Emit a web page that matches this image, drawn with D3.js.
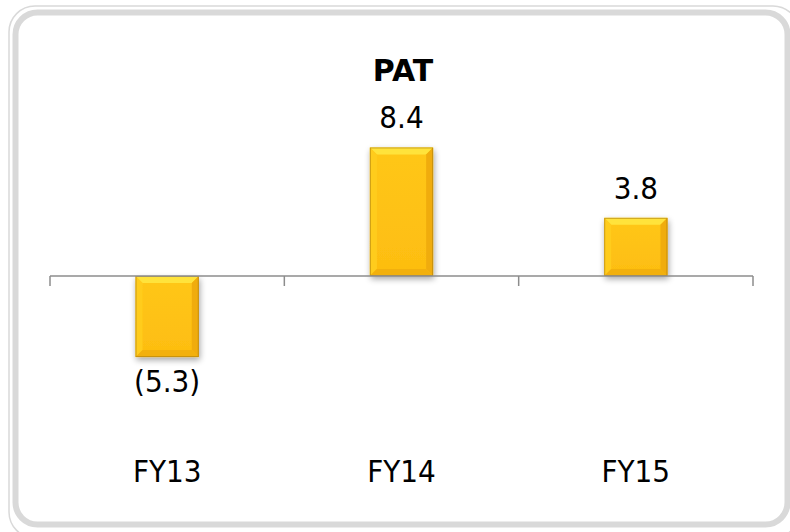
<!DOCTYPE html>
<html>
<head>
<meta charset="utf-8">
<script src="https://cdn.jsdelivr.net/npm/d3@7"></script>
<style>
  body { margin: 0; background: #fff; }
  svg { display: block; }
</style>
</head>
<body>
<script>
"use strict";

var categories = ["FY13", "FY14", "FY15"];
var values = [-5.3, 8.4, 3.8];
var valueLabels = ["(5.3)", "8.4", "3.8"];
var title = "PAT";

function init() {
  var w = 790;
  var h = 532;
  var font = "'DejaVu Sans Condensed', 'DejaVu Sans', sans-serif";

  var svg = d3.select("body")
    .append("svg")
    .attr("width", w)
    .attr("height", h);

  var defs = svg.append("defs");

  var grad = defs.append("linearGradient")
    .attr("id", "gold")
    .attr("x1", 0).attr("y1", 0).attr("x2", 0).attr("y2", 1);
  grad.append("stop").attr("offset", "0%").attr("stop-color", "#ffc719");
  grad.append("stop").attr("offset", "100%").attr("stop-color", "#fdbd10");

  var shadow = defs.append("filter")
    .attr("id", "shadow")
    .attr("x", "-30%").attr("y", "-30%").attr("width", "160%").attr("height", "160%");
  shadow.append("feGaussianBlur").attr("in", "SourceAlpha").attr("stdDeviation", 3);
  shadow.append("feOffset").attr("dx", 1).attr("dy", 3).attr("result", "blur");
  shadow.append("feComponentTransfer").append("feFuncA").attr("type", "linear").attr("slope", 0.35);
  var merge = shadow.append("feMerge");
  merge.append("feMergeNode");
  merge.append("feMergeNode").attr("in", "SourceGraphic");

  // frame: thin outer line + thicker inner line
  svg.append("rect")
    .attr("x", 9).attr("y", 6)
    .attr("width", 790).attr("height", 532)
    .attr("rx", 26)
    .attr("fill", "none")
    .attr("stroke", "#d9d9d9")
    .attr("stroke-width", 1.5);
  svg.append("rect")
    .attr("x", 15.5).attr("y", 12.5)
    .attr("width", 772).attr("height", 512)
    .attr("rx", 22)
    .attr("fill", "#fff")
    .attr("stroke", "#d9d9d9")
    .attr("stroke-width", 6);

  var x = d3.scaleBand()
    .domain(categories)
    .range([50, 753])
    .paddingInner(0.73)
    .paddingOuter(0.365);

  var y = d3.scaleLinear()
    .domain([-6, 9])
    .range([276 + 6 * 15.3, 276 - 9 * 15.3]);

  // title
  svg.append("text")
    .attr("x", 403)
    .attr("y", 81)
    .attr("text-anchor", "middle")
    .attr("font-family", "'DejaVu Sans', sans-serif")
    .attr("font-weight", "bold")
    .attr("font-size", "30px")
    .attr("fill", "#000")
    .text(title);

  // bars
  var bars = svg.selectAll("g.bar")
    .data(values)
    .enter()
    .append("g")
    .attr("class", "bar")
    .attr("filter", "url(#shadow)");

  bars.each(function (d, i) {
    var g = d3.select(this);
    var x0 = x(categories[i]);
    var bw = x.bandwidth();
    var y0 = Math.min(y(d), y(0));
    var bh = Math.abs(y(d) - y(0));
    var b = 7; // bevel size
    g.append("rect")
      .attr("x", x0).attr("y", y0)
      .attr("width", bw).attr("height", bh)
      .attr("fill", "url(#gold)");
    // top bevel (light)
    g.append("polygon")
      .attr("points", [[x0, y0], [x0 + bw, y0], [x0 + bw - b, y0 + b], [x0 + b, y0 + b]].join(" "))
      .attr("fill", "#ffe33a");
    // left bevel
    g.append("polygon")
      .attr("points", [[x0, y0], [x0 + b, y0 + b], [x0 + b, y0 + bh - b], [x0, y0 + bh]].join(" "))
      .attr("fill", "#ffcc1e");
    // right bevel (dark)
    g.append("polygon")
      .attr("points", [[x0 + bw, y0], [x0 + bw, y0 + bh], [x0 + bw - b, y0 + bh - b], [x0 + bw - b, y0 + b]].join(" "))
      .attr("fill", "#f0ac08");
    // bottom bevel
    g.append("polygon")
      .attr("points", [[x0, y0 + bh], [x0 + bw, y0 + bh], [x0 + bw - b, y0 + bh - b], [x0 + b, y0 + bh - b]].join(" "))
      .attr("fill", "#f2b00a");
    g.append("rect")
      .attr("x", x0 + 0.5).attr("y", y0 + 0.5)
      .attr("width", bw - 1).attr("height", bh - 1)
      .attr("fill", "none")
      .attr("stroke", "#a87b10")
      .attr("stroke-opacity", 0.6)
      .attr("stroke-width", 1);
  });

  // axis line at zero with ticks between categories
  var axis = svg.append("g");
  axis.append("line")
    .attr("x1", 50).attr("x2", 753)
    .attr("y1", y(0)).attr("y2", y(0))
    .attr("stroke", "#8c8c8c")
    .attr("stroke-width", 1.5);
  var tickPos = [50].concat(categories.map(function (c) {
    return x(c) + x.bandwidth() / 2 + x.step() / 2;
  }));
  axis.selectAll("line.tick")
    .data(tickPos)
    .enter()
    .append("line")
    .attr("class", "tick")
    .attr("x1", function (d) { return d; })
    .attr("x2", function (d) { return d; })
    .attr("y1", y(0))
    .attr("y2", y(0) + 10)
    .attr("stroke", "#8c8c8c")
    .attr("stroke-width", 1.5);

  // value labels
  svg.selectAll("text.value")
    .data(values)
    .enter()
    .append("text")
    .attr("class", "value")
    .attr("x", function (d, i) { return x(categories[i]) + x.bandwidth() / 2; })
    .attr("y", function (d) { return d >= 0 ? y(d) - 19 : y(d) + 35; })
    .attr("text-anchor", "middle")
    .attr("font-family", font)
    .attr("font-stretch", "condensed")
    .attr("font-size", "31px")
    .attr("fill", "#000")
    .text(function (d, i) { return valueLabels[i]; });

  // category labels
  svg.selectAll("text.cat")
    .data(categories)
    .enter()
    .append("text")
    .attr("class", "cat")
    .attr("x", function (d) { return x(d) + x.bandwidth() / 2; })
    .attr("y", 482)
    .attr("text-anchor", "middle")
    .attr("font-family", font)
    .attr("font-stretch", "condensed")
    .attr("font-size", "31px")
    .attr("fill", "#000")
    .text(function (d) { return d; });
}

window.onload = init;
</script>
</body>
</html>
